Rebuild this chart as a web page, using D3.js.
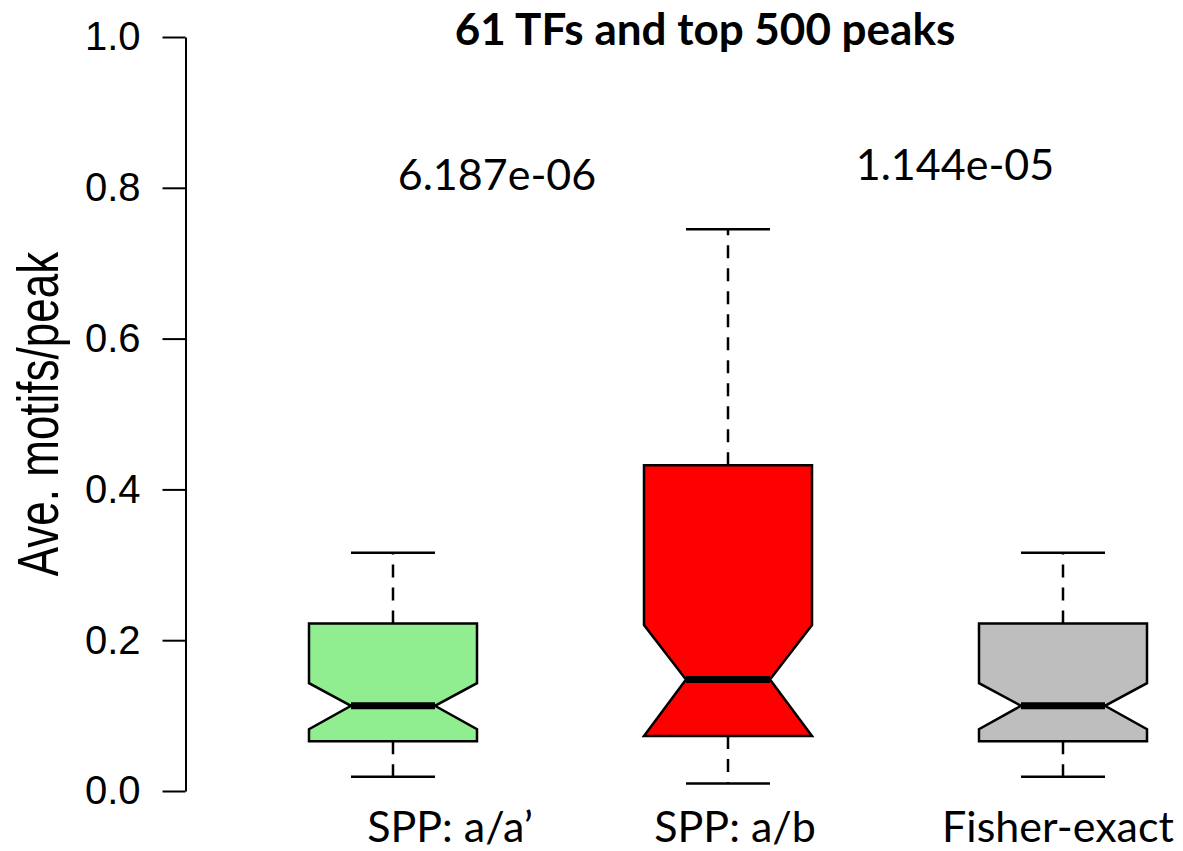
<!DOCTYPE html>
<html>
<head>
<meta charset="utf-8">
<script src="https://cdn.jsdelivr.net/npm/d3@7"></script>
<style>
  body { margin: 0; background: #fff; }
  svg { display: block; }
</style>
</head>
<body>
<div class="chart"></div>
<script>
// box statistics per group
const categories = ["SPP: a/a\u2019", "SPP: a/b", "Fisher-exact"];
const whiskerLow = [0.019, 0.010, 0.019];
const q1 = [0.066, 0.073, 0.066];
const notchLow = [0.082, 0.073, 0.082];
const median = [0.113, 0.148, 0.113];
const notchHigh = [0.143, 0.220, 0.143];
const q3 = [0.222, 0.432, 0.222];
const whiskerHigh = [0.316, 0.745, 0.316];
const boxColors = ["#90ee90", "#ff0000", "#bebebe"];
const pValues = ["6.187e-06", "1.144e-05"];
const yTicks = [0, 0.2, 0.4, 0.6, 0.8, 1.0];

const width = 1183, height = 851;

const svg = d3.select(".chart")
  .append("svg")
  .attr("width", width)
  .attr("height", height);

const x = d3.scalePoint()
  .domain(categories)
  .range([393, 1063]);

const y = d3.scaleLinear()
  .domain([0, 1])
  .range([791, 37]);

const boxHalf = 84;
const capHalf = 42;

// y axis
const yAxis = svg.append("g")
  .attr("transform", "translate(185.5,0)")
  .call(d3.axisLeft(y)
    .tickValues(yTicks)
    .tickFormat(d3.format(".1f"))
    .tickSize(23)
    .tickSizeOuter(0)
    .tickPadding(22));

yAxis.select(".domain").attr("stroke", "#000").attr("stroke-width", 2);
yAxis.selectAll(".tick line").attr("stroke", "#000").attr("stroke-width", 2);
yAxis.selectAll(".tick text")
  .attr("fill", "#000")
  .style("font-family", "'Liberation Sans', Arial, sans-serif")
  .style("font-size", "40px");

svg.append("text")
  .attr("transform", `translate(58,${(y(0) + y(1)) / 2}) rotate(-90) scale(1,1.32)`)
  .attr("text-anchor", "middle")
  .style("font-family", "'Liberation Sans', Arial, sans-serif")
  .style("font-size", "44px")
  .text("Ave. motifs/peak");

// boxes
const boxes = categories.map((c, i) => ({
  cat: c, lo: whiskerLow[i], q1: q1[i], nLo: notchLow[i], med: median[i],
  nHi: notchHigh[i], q3: q3[i], hi: whiskerHigh[i], color: boxColors[i]
}));

const g = svg.selectAll(".box")
  .data(boxes)
  .join("g")
  .attr("class", "box");

// dashed whiskers
g.append("line")
  .attr("x1", d => x(d.cat)).attr("x2", d => x(d.cat))
  .attr("y1", d => y(d.q3)).attr("y2", d => y(d.hi))
  .attr("stroke", "#000").attr("stroke-width", 2.5)
  .attr("stroke-dasharray", "13,10");
g.append("line")
  .attr("x1", d => x(d.cat)).attr("x2", d => x(d.cat))
  .attr("y1", d => y(d.q1)).attr("y2", d => y(d.lo))
  .attr("stroke", "#000").attr("stroke-width", 2.5)
  .attr("stroke-dasharray", "13,10");

// caps
g.append("line")
  .attr("x1", d => x(d.cat) - capHalf).attr("x2", d => x(d.cat) + capHalf)
  .attr("y1", d => y(d.hi)).attr("y2", d => y(d.hi))
  .attr("stroke", "#000").attr("stroke-width", 2.5);
g.append("line")
  .attr("x1", d => x(d.cat) - capHalf).attr("x2", d => x(d.cat) + capHalf)
  .attr("y1", d => y(d.lo)).attr("y2", d => y(d.lo))
  .attr("stroke", "#000").attr("stroke-width", 2.5);

// notched box outline
g.append("path")
  .attr("d", d => {
    const xl = x(d.cat) - boxHalf, xr = x(d.cat) + boxHalf;
    const il = x(d.cat) - boxHalf / 2, ir = x(d.cat) + boxHalf / 2;
    const pts = [
      [xl, y(d.q1)], [xl, y(d.nLo)], [il, y(d.med)], [xl, y(d.nHi)], [xl, y(d.q3)],
      [xr, y(d.q3)], [xr, y(d.nHi)], [ir, y(d.med)], [xr, y(d.nLo)], [xr, y(d.q1)]
    ];
    return d3.line()(pts) + "Z";
  })
  .attr("fill", d => d.color)
  .attr("stroke", "#000")
  .attr("stroke-width", 2.5)
  .attr("stroke-linejoin", "miter");

// median
g.append("line")
  .attr("x1", d => x(d.cat) - boxHalf / 2).attr("x2", d => x(d.cat) + boxHalf / 2)
  .attr("y1", d => y(d.med)).attr("y2", d => y(d.med))
  .attr("stroke", "#000").attr("stroke-width", 7);

// group labels (placed a bit off-centre, as in the original)
const labelShift = [57, 7, -5];
svg.selectAll(".xlab")
  .data(categories)
  .join("text")
  .attr("class", "xlab")
  .attr("x", (d, i) => x(d) + labelShift[i])
  .attr("y", 842)
  .attr("text-anchor", "middle")
  .style("font-family", "Lato, 'Open Sans', sans-serif")
  .style("font-size", "43px")
  .text(d => d);

// p-values between pairs
const pPos = [[497, 0.797], [955, 0.810]];
svg.selectAll(".pval")
  .data(pValues)
  .join("text")
  .attr("class", "pval")
  .attr("x", (d, i) => pPos[i][0])
  .attr("y", (d, i) => y(pPos[i][1]))
  .attr("text-anchor", "middle")
  .style("font-family", "Lato, 'Open Sans', sans-serif")
  .style("font-size", "43px")
  .text(d => d);

// title
svg.append("text")
  .attr("x", 705)
  .attr("y", 45)
  .attr("text-anchor", "middle")
  .style("font-family", "Lato, 'Open Sans', sans-serif")
  .style("font-weight", "bold")
  .style("font-size", "44px")
  .text("61 TFs and top 500 peaks");
</script>
</body>
</html>
